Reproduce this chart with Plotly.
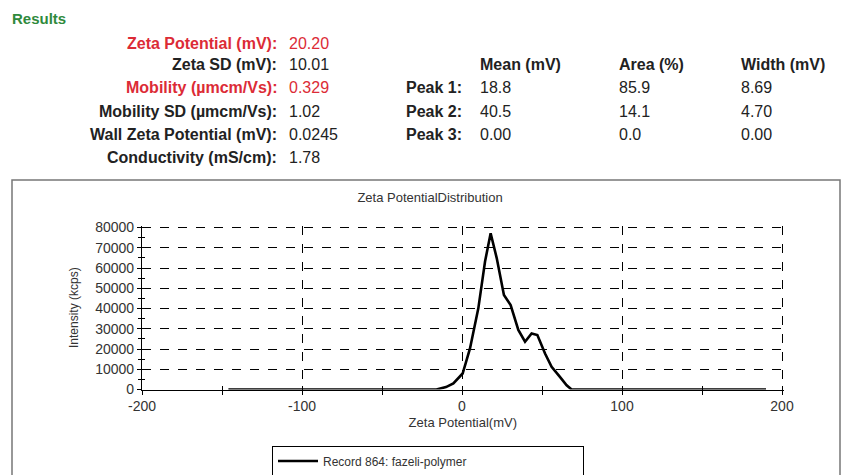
import plotly.graph_objects as go

# ---------------- data ----------------
zeta_mv = [-146, -16, -10, -5.4, 0.4, 5, 10.2, 14.4, 17.9, 21.7, 26.2, 30.4, 35.2,
           39.4, 43.5, 47.1, 51.9, 56, 61.2, 65.4, 68.5, 190]
intensity = [0, 0, 1200, 3000, 7900, 20300, 40100, 63200, 77200, 64900, 46700, 41700,
             29400, 23600, 27700, 26900, 17800, 11200, 6200, 2100, 0, 0]
series_name = "Record 864: fazeli-polymer"

summary_labels = ["Zeta Potential (mV):", "Zeta SD (mV):", "Mobility (µmcm/Vs):",
                  "Mobility SD (µmcm/Vs):", "Wall Zeta Potential (mV):", "Conductivity (mS/cm):"]
summary_values = ["20.20", "10.01", "0.329", "1.02", "0.0245", "1.78"]
summary_red = [True, False, True, False, False, False]

peak_headers = ["Mean (mV)", "Area (%)", "Width (mV)"]
peak_labels = ["Peak 1:", "Peak 2:", "Peak 3:"]
peak_mean = ["18.8", "40.5", "0.00"]
peak_area = ["85.9", "14.1", "0.0"]
peak_width = ["8.69", "4.70", "0.00"]

y_ticks = [0, 10000, 20000, 30000, 40000, 50000, 60000, 70000, 80000]
x_ticks = [-200, -100, 0, 100, 200]
x_tick_labels = ["-200", "-100", "0", "100", "200"]

# ---------------- layout helpers ----------------
W, H = 842, 475
FONT = "Liberation Sans, Arial, sans-serif"
RED = "#dc2b36"
GREEN = "#2f8a3c"
DARK = "#222222"
TXT = 16

def px(x):
    return x / W

def py(y):
    return 1 - y / H

fig = go.Figure()
fig.add_trace(go.Scatter(x=zeta_mv, y=intensity, mode="lines", name=series_name,
                         line=dict(color="black", width=2.6), showlegend=True))
# helper trace for the inside half of the crossing ticks
fig.add_trace(go.Scatter(x=zeta_mv, y=intensity, mode="lines", xaxis="x2", yaxis="y2",
                         line=dict(color="rgba(0,0,0,0)", width=0), showlegend=False,
                         hoverinfo="skip"))

x_range = [-200, 201]
y_range = [0, 80800]
x_dom = [px(142), px(783.6)]
y_dom = [py(389.5), py(225.9)]

annotations = []
annotations.append(dict(text="<b>Results</b>", x=px(10), y=py(18), xref="paper", yref="paper",
                        xanchor="left", yanchor="middle", showarrow=False,
                        font=dict(family=FONT, size=15, color=GREEN)))
row_y = [43, 65, 87.5, 111, 134, 157]
for lab, val, red, yy in zip(summary_labels, summary_values, summary_red, row_y):
    col = RED if red else DARK
    annotations.append(dict(text="<b>" + lab + "</b>", x=px(279), y=py(yy), xref="paper", yref="paper",
                            xanchor="right", yanchor="middle", showarrow=False,
                            font=dict(family=FONT, size=TXT, color=col)))
    annotations.append(dict(text=val, x=px(287), y=py(yy), xref="paper", yref="paper",
                            xanchor="left", yanchor="middle", showarrow=False,
                            font=dict(family=FONT, size=TXT, color=col)))

col_x = [478, 617, 739]
for hdr, cx in zip(peak_headers, col_x):
    annotations.append(dict(text="<b>" + hdr + "</b>", x=px(cx), y=py(65), xref="paper", yref="paper",
                            xanchor="left", yanchor="middle", showarrow=False,
                            font=dict(family=FONT, size=TXT, color=DARK)))
peak_row_y = [88, 111, 134]
for lab, m, a, w, yy in zip(peak_labels, peak_mean, peak_area, peak_width, peak_row_y):
    annotations.append(dict(text="<b>" + lab + "</b>", x=px(464), y=py(yy), xref="paper", yref="paper",
                            xanchor="right", yanchor="middle", showarrow=False,
                            font=dict(family=FONT, size=TXT, color=DARK)))
    for v, cx in zip([m, a, w], col_x):
        annotations.append(dict(text=v, x=px(cx), y=py(yy), xref="paper", yref="paper",
                                xanchor="left", yanchor="middle", showarrow=False,
                                font=dict(family=FONT, size=TXT, color=DARK)))

tick_font = dict(family=FONT, size=14, color="#333333")

fig.update_layout(
    width=W, height=H,
    margin=dict(l=0, r=0, t=0, b=0, autoexpand=False),
    paper_bgcolor="white", plot_bgcolor="white",
    font=dict(family=FONT, color=DARK),
    title=dict(text="Zeta PotentialDistribution", x=px(430), y=py(197), xanchor="center",
               yanchor="middle", xref="container", yref="container", automargin=False,
               font=dict(family=FONT, size=13, color="#333333")),
    xaxis=dict(domain=x_dom, range=x_range, tickvals=x_ticks, ticktext=x_tick_labels,
               ticks="outside", ticklen=4,
               tickcolor="black", tickwidth=1, showline=True, linecolor="black", linewidth=1.2,
               showgrid=True, gridcolor="black", griddash="dash", gridwidth=1, zeroline=False,
               minor=dict(dtick=50, tick0=-200, ticks="outside", ticklen=4, tickcolor="black", showgrid=False),
               tickfont=tick_font, anchor="y", automargin=False,
               title=dict(text="Zeta Potential(mV)", font=dict(family=FONT, size=13, color="#333333"),
                          standoff=4)),
    yaxis=dict(domain=y_dom, range=y_range, tickvals=y_ticks, ticks="outside", ticklen=4,
               tickcolor="black", tickwidth=1, showline=True, linecolor="black", linewidth=1.2,
               showgrid=True, gridcolor="black", griddash="dash", gridwidth=1, zeroline=False,
               minor=dict(dtick=5000, tick0=0, ticks="outside", ticklen=3, tickcolor="black", showgrid=False),
               tickfont=tick_font, anchor="x", tickformat="d", automargin=False,
               title=dict(text="Intensity (kcps)", font=dict(family=FONT, size=12, color="#333333"),
                          standoff=13)),
    xaxis2=dict(domain=x_dom, range=x_range, overlaying="x", anchor="y2", showgrid=False,
                zeroline=False, showline=False, tickvals=x_ticks, ticks="inside", ticklen=4,
                tickcolor="black", showticklabels=False, automargin=False,
                minor=dict(dtick=50, tick0=-200, ticks="inside", ticklen=4, tickcolor="black")),
    yaxis2=dict(domain=y_dom, range=y_range, overlaying="y", anchor="x2", showgrid=False,
                zeroline=False, showline=False, tickvals=y_ticks, ticks="inside", ticklen=4,
                tickcolor="black", showticklabels=False, automargin=False,
                minor=dict(dtick=5000, tick0=0, ticks="inside", ticklen=3, tickcolor="black")),
    legend=dict(x=px(428), y=py(461), xanchor="center", yanchor="middle", orientation="h",
                xref="container", yref="container",
                bordercolor="black", borderwidth=1, bgcolor="white",
                font=dict(family=FONT, size=12, color="#333333"),
                entrywidth=255, entrywidthmode="pixels", itemwidth=40),
    annotations=annotations,
    shapes=[dict(type="rect", xref="paper", yref="paper", x0=px(12), x1=px(840),
                 y0=-0.05, y1=py(180), line=dict(color="#777777", width=1.5))],
)

fig.write_html("out.html", post_script="document.body.style.margin='0';",
               config={"displayModeBar": False})
